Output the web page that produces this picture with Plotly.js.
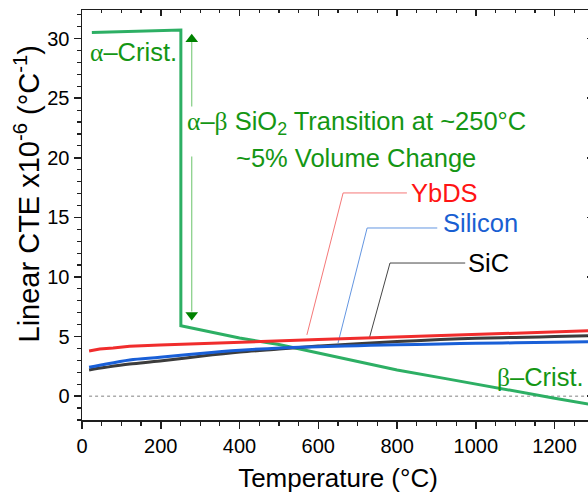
<!DOCTYPE html>
<html>
<head>
<meta charset="utf-8">
<script src="https://cdn.plot.ly/plotly-3.0.1.min.js"></script>
<style>
html,body{margin:0;padding:0;background:#fff;overflow:hidden;}
#wrap{width:588px;height:495px;overflow:hidden;position:relative;}
#chart{width:600px;height:495px;}
</style>
</head>
<body>
<div id="wrap"><div id="chart"></div></div>
<script>
// ---- data ----
const cristT   = [25, 100, 200, 251, 251, 400, 500, 600, 700, 800, 927, 1000, 1100, 1200, 1300];
const cristCTE = [30.52, 30.58, 30.67, 30.72, 5.9, 4.88, 4.33, 3.6, 2.9, 2.2, 1.45, 1.0, 0.4, -0.17, -0.75];

const ybdsT   = [18, 45, 79, 121, 198, 300, 401, 503, 600, 700, 800, 910, 1000, 1100, 1200, 1300];
const ybdsCTE = [3.79, 3.96, 4.04, 4.18, 4.29, 4.42, 4.55, 4.66, 4.76, 4.86, 4.97, 5.13, 5.2, 5.3, 5.4, 5.5];

const siliconT   = [18, 45, 121, 198, 300, 401, 503, 600, 700, 800, 910, 1000, 1100, 1200, 1300];
const siliconCTE = [2.42, 2.59, 3.04, 3.26, 3.58, 3.85, 4.05, 4.15, 4.24, 4.31, 4.38, 4.43, 4.48, 4.53, 4.58];

const sicT   = [18, 60, 121, 198, 300, 401, 500, 600, 700, 800, 910, 1000, 1100, 1200, 1300];
const sicCTE = [2.2, 2.42, 2.7, 2.95, 3.35, 3.7, 3.95, 4.2, 4.4, 4.58, 4.75, 4.85, 4.93, 5.0, 5.07];

const zeroT = [18, 1300];
const zeroCTE = [0, 0];

// leader lines for labels
const ybdsLeadT = [825, 663, 571];
const ybdsLeadC = [17.05, 17.05, 5.14];
const siLeadT = [902, 724, 650];
const siLeadC = [14.11, 14.11, 4.46];
const sicLeadT = [973, 782, 729];
const sicLeadC = [11.17, 11.17, 4.8];

// transition arrow
const arrowT = 278.6;
const arrowUpC = [24.3, 29.9];
const arrowDownC = [20.1, 7.1];
const arrowHeadUpC = 29.95;
const arrowHeadDownC = 6.8;

const xTicks = [0, 200, 400, 600, 800, 1000, 1200];
const yTicks = [0, 5, 10, 15, 20, 25, 30];

const FONT = "'Liberation Sans', Arial, sans-serif";
const GREEN_TXT = 'rgb(20,150,20)';
const ANN = 25.5;

const traces = [
  {x: zeroT, y: zeroCTE, mode: 'lines', line: {color: 'rgb(130,130,130)', width: 1, dash: '3px,3px'}, hoverinfo: 'skip'},
  {x: [arrowT, arrowT], y: arrowUpC, mode: 'lines', line: {color: 'rgb(130,205,130)', width: 1.2}},
  {x: [arrowT, arrowT], y: arrowDownC, mode: 'lines', line: {color: 'rgb(130,205,130)', width: 1.2}},
  {x: [arrowT], y: [arrowHeadUpC], mode: 'markers', marker: {symbol: 'triangle-up', size: 11, color: 'rgb(0,130,0)'}},
  {x: [arrowT], y: [arrowHeadDownC], mode: 'markers', marker: {symbol: 'triangle-down', size: 11, color: 'rgb(0,130,0)'}},
  {x: ybdsLeadT, y: ybdsLeadC, mode: 'lines', line: {color: 'rgb(245,120,120)', width: 1}},
  {x: siLeadT, y: siLeadC, mode: 'lines', line: {color: 'rgb(100,150,225)', width: 1}},
  {x: sicLeadT, y: sicLeadC, mode: 'lines', line: {color: 'rgb(70,70,70)', width: 1}},
  {x: cristT, y: cristCTE, mode: 'lines', line: {color: 'rgb(45,175,100)', width: 3}},
  {x: sicT, y: sicCTE, mode: 'lines', line: {color: 'rgb(60,60,60)', width: 3, shape: 'spline'}},
  {x: siliconT, y: siliconCTE, mode: 'lines', line: {color: 'rgb(25,95,215)', width: 3, shape: 'spline'}},
  {x: ybdsT, y: ybdsCTE, mode: 'lines', line: {color: 'rgb(240,45,45)', width: 3}},
  {x: [null], y: [null], xaxis: 'x2', yaxis: 'y2', mode: 'lines'}
];

const serifA = "<span style=\"font-family:'Liberation Serif',serif\">α</span>";
const serifB = "<span style=\"font-family:'Liberation Serif',serif\">β</span>";

const annotations = [
  {x: 129.5, y: 28.8, text: serifA + '–Crist.', font: {size: ANN, color: GREEN_TXT}},
  {x: 1163, y: 1.53, text: serifB + '–Crist.', font: {size: ANN, color: GREEN_TXT}},
  {x: 696, y: 22.9, text: serifA + '–' + serifB + ' SiO<sub>2</sub> Transition at ~250°C', font: {size: ANN, color: GREEN_TXT}},
  {x: 694.5, y: 19.98, text: '~5% Volume Change', font: {size: ANN, color: GREEN_TXT}},
  {x: 829, y: 17.05, text: 'YbDS', xanchor: 'left', font: {size: ANN, color: 'rgb(255,20,20)'}},
  {x: 911, y: 14.55, text: 'Silicon', xanchor: 'left', font: {size: ANN, color: 'rgb(25,95,210)'}},
  {x: 974, y: 11.17, text: 'SiC', xanchor: 'left', font: {size: ANN, color: 'rgb(0,0,0)'}}
].map(a => Object.assign({xref: 'x', yref: 'y', showarrow: false, yanchor: 'middle', xanchor: a.xanchor || 'center'}, a));

// y-axis title (placed as a rotated annotation to match the reference offset)
annotations.push({
  xref: 'paper', yref: 'paper', x: -0.107, y: 0.553, xanchor: 'center', yanchor: 'middle',
  textangle: -90, showarrow: false,
  text: 'Linear CTE x10<sup>-6</sup> (°C<sup>-1</sup>)', font: {size: 29, family: FONT, color: '#000'}
});

const axisCommon = {
  showgrid: false, zeroline: false, showline: true, linecolor: 'rgb(30,30,30)', linewidth: 1.5,
  tickcolor: 'rgb(30,30,30)', tickwidth: 1.5
};

const layout = {
  width: 600, height: 495,
  margin: {l: 82, r: 6, t: 10, b: 75},
  paper_bgcolor: '#fff', plot_bgcolor: '#fff',
  showlegend: false,
  font: {family: FONT, color: '#000'},
  xaxis: Object.assign({}, axisCommon, {
    range: [0, 1300], tickvals: xTicks, ticktext: xTicks.map(String),
    ticks: 'outside', ticklen: 7,
    minor: {dtick: 50, tick0: 0, ticks: 'outside', ticklen: 4, tickwidth: 1.2, tickcolor: 'rgb(30,30,30)'},
    tickfont: {size: 20, family: FONT},
    title: {text: 'Temperature (°C)', font: {size: 26, family: FONT}, standoff: 13}
  }),
  yaxis: Object.assign({}, axisCommon, {
    range: [-2, 32.4], tickvals: yTicks, ticktext: yTicks.map(String),
    ticks: 'outside', ticklen: 7,
    minor: {dtick: 1, tick0: 0, ticks: 'outside', ticklen: 4, tickwidth: 1.2, tickcolor: 'rgb(30,30,30)'},
    tickfont: {size: 20, family: FONT}
  }),
  xaxis2: Object.assign({}, axisCommon, {
    overlaying: 'x', side: 'top', anchor: 'y2', range: [0, 1300], tickvals: xTicks,
    ticks: 'inside', ticklen: 6, showticklabels: false,
    minor: {dtick: 50, tick0: 0, ticks: 'inside', ticklen: 3, tickwidth: 1.2, tickcolor: 'rgb(30,30,30)'}
  }),
  yaxis2: Object.assign({}, axisCommon, {
    overlaying: 'y', side: 'right', anchor: 'x2', range: [-2, 32.4], tickvals: yTicks,
    ticks: 'inside', ticklen: 7, showticklabels: false,
    minor: {dtick: 1, tick0: 0, ticks: 'inside', ticklen: 4, tickwidth: 1.2, tickcolor: 'rgb(30,30,30)'}
  }),
  annotations: annotations
};

Plotly.newPlot('chart', traces, layout, {staticPlot: true, displayModeBar: false});
</script>
</body>
</html>
